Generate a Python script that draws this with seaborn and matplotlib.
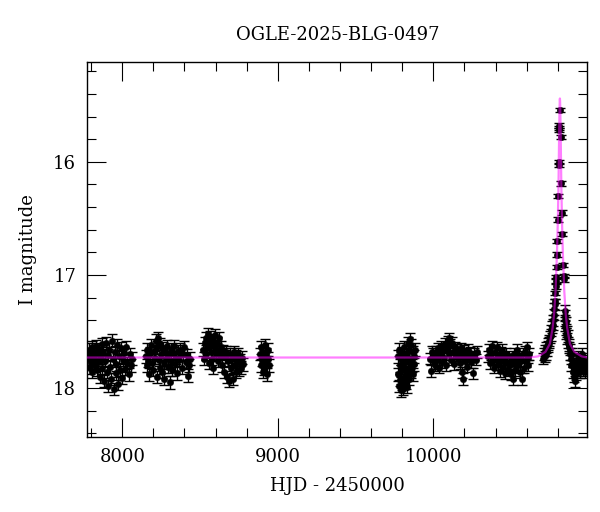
import matplotlib
matplotlib.use("Agg")
import matplotlib.pyplot as plt
from matplotlib.ticker import MultipleLocator
import numpy as np
import pandas as pd
import seaborn as sns

# --- photometry (HJD - 2450000, I mag) ---
hjd_s1 = [7784, 7787, 7791, 7795, 7799, 7803, 7808, 7812, 7817, 7822, 7827, 7832, 7837,
          7842, 7847, 7852, 7857, 7862, 7867, 7872, 7878, 7883, 7889, 7894, 7900, 7905,
          7911, 7916, 7922, 7928, 7933, 7939, 7945, 7951, 7957, 7962, 7968, 7974, 7980,
          7986, 7992, 7998, 8004, 8010, 8016, 8024, 8032, 8040, 8048, 8056, 8064]
mag_s1 = [17.74, 17.66, 17.82, 17.70, 17.78, 17.64, 17.86, 17.72, 17.68, 17.80, 17.75, 17.63,
          17.84, 17.70, 17.77, 17.66, 17.90, 17.73, 17.61, 17.82, 17.69, 17.94, 17.76, 17.60,
          17.86, 17.71, 17.98, 17.66, 17.81, 17.92, 17.58, 17.74, 18.01, 17.68, 17.87, 17.79,
          17.62, 17.96, 17.72, 17.84, 17.65, 17.91, 17.75, 17.69, 17.83, 17.64, 17.78, 17.88,
          17.70, 17.80, 17.74]

hjd_s2 = [8152, 8157, 8162, 8168, 8174, 8180, 8186, 8192, 8198, 8204, 8210, 8215, 8220,
          8225, 8230, 8235, 8240, 8245, 8250, 8255, 8260, 8265, 8270, 8275, 8280, 8286,
          8292, 8298, 8304, 8310, 8316, 8322, 8328, 8334, 8340, 8346, 8352, 8359, 8366,
          8374, 8382, 8390, 8399, 8408, 8416, 8424, 8432, 8438]
mag_s2 = [17.72, 17.80, 17.66, 17.76, 17.88, 17.69, 17.62, 17.78, 17.84, 17.67, 17.73, 17.58,
          17.90, 17.64, 17.56, 17.75, 17.82, 17.61, 17.70, 17.86, 17.65, 17.78, 17.92, 17.68,
          17.74, 17.63, 17.81, 17.70, 17.95, 17.66, 17.76, 17.84, 17.69, 17.63, 17.79, 17.73,
          17.87, 17.67, 17.75, 17.66, 17.82, 17.70, 17.64, 17.77, 17.71, 17.89, 17.80, 17.74]

hjd_s3 = [8521, 8526, 8531, 8536, 8541, 8546, 8551, 8556, 8561, 8566, 8571, 8576, 8581,
          8586, 8591, 8596, 8601, 8606, 8611, 8616, 8621, 8626, 8632, 8638, 8644, 8650,
          8656, 8662, 8668, 8674, 8680, 8686, 8692, 8698, 8704, 8710, 8716, 8722, 8728,
          8734, 8740, 8746, 8752, 8758, 8764, 8770, 8776]
mag_s3 = [17.66, 17.74, 17.60, 17.70, 17.56, 17.64, 17.52, 17.78, 17.61, 17.55, 17.68, 17.74,
          17.58, 17.82, 17.63, 17.53, 17.70, 17.66, 17.60, 17.76, 17.56, 17.68, 17.64, 17.80,
          17.70, 17.67, 17.86, 17.72, 17.68, 17.90, 17.76, 17.94, 17.70, 17.82, 17.74, 17.92,
          17.68, 17.80, 17.86, 17.72, 17.77, 17.70, 17.84, 17.75, 17.82, 17.73, 17.79]

hjd_s4 = [8887, 8891, 8894, 8898, 8902, 8906, 8910, 8914, 8918, 8922, 8926, 8930, 8934,
          8938, 8941]
mag_s4 = [17.70, 17.80, 17.64, 17.75, 17.86, 17.68, 17.72, 17.83, 17.62, 17.77, 17.70, 17.88,
          17.74, 17.66, 17.80]

hjd_s5 = [9771, 9774, 9777, 9780, 9783, 9786, 9789, 9792, 9795, 9798, 9801, 9804, 9807,
          9810, 9813, 9816, 9819, 9822, 9825, 9828, 9831, 9834, 9837, 9840, 9843, 9846,
          9849, 9852, 9855, 9858, 9861, 9864, 9867, 9870, 9873, 9876, 9879]
mag_s5 = [17.72, 17.88, 17.98, 17.66, 17.80, 17.93, 18.02, 17.74, 17.85, 17.69, 17.96, 17.78,
          18.01, 17.90, 17.64, 17.82, 17.76, 17.95, 17.70, 17.87, 17.99, 17.73, 17.60, 17.83,
          17.92, 17.67, 17.78, 17.57, 17.86, 17.62, 17.74, 17.80, 17.68, 17.88, 17.72, 17.79,
          17.66]

hjd_s6 = [9980, 9984, 9990, 9996, 10002, 10008, 10014, 10020, 10026, 10032, 10038, 10044,
          10050, 10056, 10062, 10068, 10074, 10080, 10086, 10092, 10098, 10104, 10110,
          10116, 10122, 10128, 10134, 10140, 10146, 10152, 10158, 10164, 10170, 10176,
          10182, 10188, 10194, 10200, 10206, 10212, 10218, 10224, 10230, 10236, 10242,
          10248, 10256, 10264, 10272, 10280]
mag_s6 = [17.74, 17.85, 17.68, 17.70, 17.78, 17.72, 17.80, 17.68, 17.75, 17.65, 17.82, 17.71,
          17.63, 17.77, 17.67, 17.73, 17.61, 17.80, 17.64, 17.59, 17.70, 17.56, 17.62, 17.75,
          17.60, 17.68, 17.79, 17.64, 17.71, 17.66, 17.74, 17.69, 17.78, 17.65, 17.86, 17.92,
          17.72, 17.67, 17.76, 17.70, 17.81, 17.66, 17.74, 17.69, 17.77, 17.72, 17.87, 17.70,
          17.75, 17.68]

hjd_s7 = [10354, 10360, 10366, 10372, 10378, 10384, 10390, 10396, 10402, 10408, 10414,
          10420, 10426, 10432, 10438, 10444, 10450, 10456, 10462, 10468, 10474, 10480,
          10486, 10492, 10498, 10504, 10510, 10516, 10522, 10528, 10534, 10540, 10546,
          10552, 10558, 10564, 10570, 10576, 10582, 10588, 10594, 10600, 10606, 10612, 10618]
mag_s7 = [17.72, 17.66, 17.78, 17.70, 17.63, 17.75, 17.82, 17.68, 17.74, 17.64, 17.79, 17.71,
          17.85, 17.69, 17.76, 17.66, 17.81, 17.73, 17.87, 17.70, 17.78, 17.84, 17.72, 17.80,
          17.88, 17.75, 17.92, 17.79, 17.70, 17.84, 17.74, 17.66, 17.80, 17.72, 17.86, 17.76,
          17.92, 17.70, 17.82, 17.68, 17.76, 17.64, 17.73, 17.80, 17.70]

# event season: wings (rise + decline) and the peak itself
hjd_s8 = [10707, 10711, 10715, 10719, 10723, 10727, 10731, 10735, 10739, 10743, 10747,
          10751, 10755, 10759, 10763, 10767, 10771, 10775, 10778, 10781,
          10845, 10846, 10847, 10848, 10850, 10852, 10855, 10858, 10861, 10864, 10867,
          10870, 10873, 10876, 10880, 10884, 10888, 10892, 10896, 10900, 10904, 10908,
          10912, 10916, 10920, 10924, 10928, 10932, 10936, 10940, 10944, 10948, 10952,
          10956, 10960, 10964, 10968, 10972, 10976, 10980, 10984]
mag_s8 = [17.74, 17.70, 17.72, 17.67, 17.70, 17.64, 17.67, 17.61, 17.63, 17.58, 17.60,
          17.55, 17.53, 17.49, 17.46, 17.44, 17.40, 17.35, 17.30, 17.26,
          17.32, 17.40, 17.36, 17.45, 17.42, 17.48, 17.52, 17.50, 17.56, 17.54, 17.60,
          17.64, 17.62, 17.70, 17.66, 17.74, 17.80, 17.70, 17.86, 17.76, 17.90, 17.82,
          17.94, 17.78, 17.88, 17.84, 17.72, 17.80, 17.76, 17.86, 17.74, 17.82, 17.78,
          17.70, 17.84, 17.76, 17.80, 17.74, 17.86, 17.78, 17.82]

hjd_peak = [10783, 10785, 10787, 10789, 10790, 10793, 10795, 10797, 10800, 10804, 10807,
            10807, 10810, 10810, 10811, 10815, 10819, 10823, 10826, 10830, 10835, 10838, 10839]
mag_peak = [17.23, 17.16, 17.10, 17.05, 17.02, 16.93, 16.82, 16.70, 16.51, 16.30, 16.00,
            16.03, 15.68, 15.72, 15.70, 15.54, 15.78, 16.19, 16.45, 16.64, 16.91, 17.01, 17.04]

# typical error bar per chunk (mag)
season_err = [0.055, 0.055, 0.055, 0.055, 0.055, 0.05, 0.05, 0.05]
peak_err = 0.02

# model curve (magenta)
model_hjd = [7775, 10620, 10674, 10721, 10749, 10767, 10777, 10786, 10795, 10800, 10805,
             10809, 10812, 10813, 10814, 10815, 10816, 10819, 10823, 10828, 10833, 10842,
             10851, 10861, 10879, 10907, 10954, 10990]
model_mag = [17.73, 17.73, 17.72, 17.68, 17.61, 17.47, 17.34, 17.14, 16.81, 16.56, 16.21,
             15.76, 15.51, 15.46, 15.44, 15.46, 15.51, 15.76, 16.21, 16.56, 16.81, 17.14,
             17.34, 17.47, 17.61, 17.68, 17.72, 17.73]


def build_frame():
    seasons = [(hjd_s1, mag_s1), (hjd_s2, mag_s2), (hjd_s3, mag_s3), (hjd_s4, mag_s4),
               (hjd_s5, mag_s5), (hjd_s6, mag_s6), (hjd_s7, mag_s7), (hjd_s8, mag_s8)]
    parts = []
    for (t, m), e in zip(seasons, season_err):
        parts.append(pd.DataFrame({"hjd": t, "mag": m, "err": e}))
    parts.append(pd.DataFrame({"hjd": hjd_peak, "mag": mag_peak, "err": peak_err}))
    return pd.concat(parts, ignore_index=True)


def main():
    sns.set_theme(style="ticks")
    plt.rcParams["font.family"] = ["DejaVu Serif"]
    plt.rcParams["text.color"] = "black"
    plt.rcParams["axes.labelcolor"] = "black"
    plt.rcParams["xtick.color"] = "black"
    plt.rcParams["ytick.color"] = "black"

    df = build_frame()
    model = pd.DataFrame({"hjd": model_hjd, "mag": model_mag})

    fig = plt.figure(figsize=(6.0, 5.12), dpi=100)
    ax = fig.add_axes([0.1455, 0.1471, 0.8333, 0.7312])

    ax.errorbar(df["hjd"], df["mag"], yerr=df["err"], fmt="none", ecolor="black",
                elinewidth=1.0, capsize=3.5, capthick=1.0, zorder=2)
    sns.scatterplot(data=df, x="hjd", y="mag", color="black", s=22, edgecolor="black",
                    linewidth=0.3, ax=ax, zorder=3, legend=False)
    sns.lineplot(data=model, x="hjd", y="mag", sort=False, estimator=None,
                 color="#ff00ff", lw=1.6, alpha=0.5, ax=ax, zorder=5)

    ax.set_xlim(7775, 10990)
    ax.set_ylim(18.43, 15.12)
    ax.xaxis.set_major_locator(MultipleLocator(1000))
    ax.xaxis.set_minor_locator(MultipleLocator(200))
    ax.yaxis.set_major_locator(MultipleLocator(1))
    ax.yaxis.set_minor_locator(MultipleLocator(0.2))
    ax.tick_params(which="both", direction="in", top=True, right=True,
                   width=0.8, colors="black", labelsize=13, pad=8)
    ax.tick_params(which="major", length=13.5)
    ax.tick_params(which="minor", length=6.8)
    for s in ax.spines.values():
        s.set_linewidth(1.0)
        s.set_color("black")

    ax.set_xlabel("HJD - 2450000", fontsize=13, labelpad=8, color="black")
    ax.set_ylabel("I magnitude", fontsize=13, labelpad=12, color="black")
    ax.set_title("OGLE-2025-BLG-0497", fontsize=13, pad=16, color="black")

    fig.savefig("out.png", dpi=100)
    plt.close(fig)


if __name__ == "__main__":
    main()
